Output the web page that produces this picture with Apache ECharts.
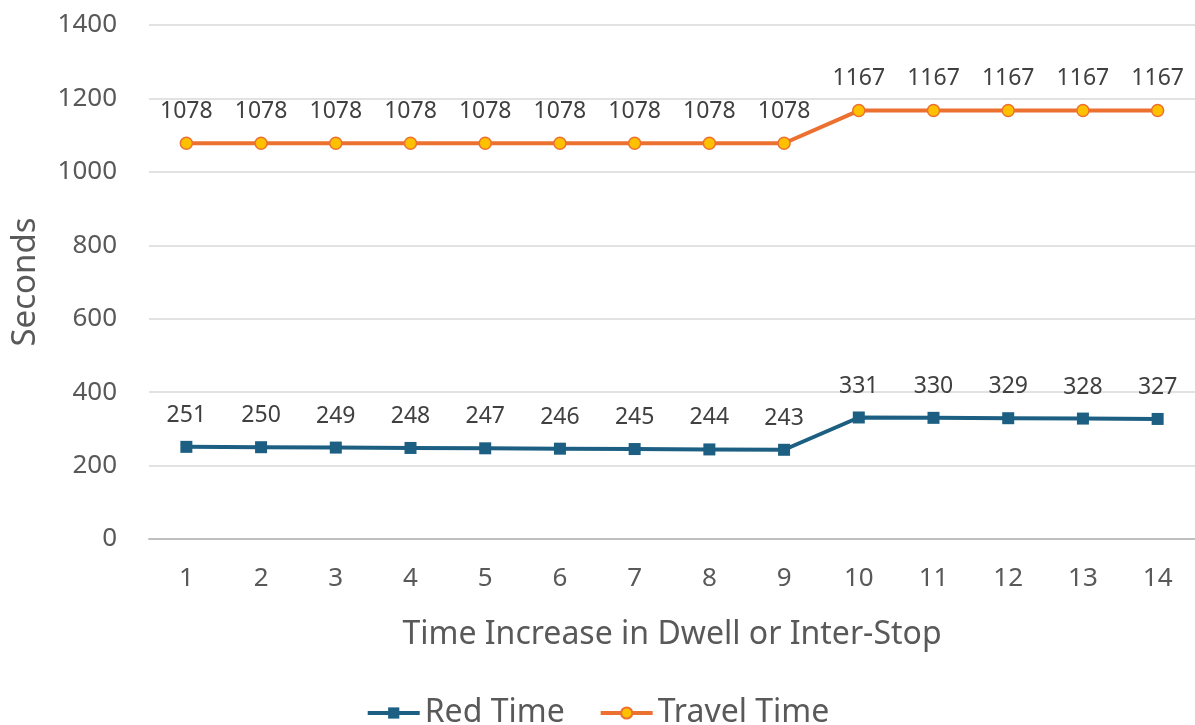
<!DOCTYPE html>
<html>
<head>
<meta charset="utf-8">
<script src="https://cdn.jsdelivr.net/npm/echarts@6/dist/echarts.min.js"></script>
<style>
  html, body { margin: 0; padding: 0; background: #ffffff; }
  #chart { width: 1195px; height: 725px; }
</style>
</head>
<body>
<div id="chart"></div>
<script>
// Step of added time (dwell or inter-stop), seconds of red time and travel time
const categories = ['1', '2', '3', '4', '5', '6', '7', '8', '9', '10', '11', '12', '13', '14'];
const redTime = [251, 250, 249, 248, 247, 246, 245, 244, 243, 331, 330, 329, 328, 327];
const travelTime = [1078, 1078, 1078, 1078, 1078, 1078, 1078, 1078, 1078, 1167, 1167, 1167, 1167, 1167];
const yTicks = { min: 0, max: 1400, interval: 200 };

const FONT = '"Noto Sans", "Open Sans", sans-serif';
const BLUE = '#1c5f82';
const ORANGE = '#ec7130';
const GOLD = '#ffc000';

const chart = echarts.init(document.getElementById('chart'), null, { renderer: 'canvas' });

const labelStyle = {
  show: true,
  position: 'top',
  distance: 14,
  color: '#404040',
  fontSize: 23,
  fontFamily: FONT
};

chart.setOption({
  animation: false,
  backgroundColor: '#ffffff',
  grid: { left: 149, right: 0, top: 25, bottom: 186, containLabel: false },
  legend: {
    bottom: -9,
    left: 'center',
    itemWidth: 52,
    itemHeight: 14,
    itemGap: 34,
    lineStyle: { width: 4 },
    textStyle: { color: '#595959', fontSize: 32, fontFamily: FONT },
    data: ['Red Time', 'Travel Time']
  },
  xAxis: {
    type: 'category',
    data: categories,
    boundaryGap: true,
    name: 'Time Increase in Dwell or Inter-Stop',
    nameLocation: 'middle',
    nameGap: 80,
    nameTextStyle: { color: '#595959', fontSize: 32, fontFamily: FONT },
    axisLine: { show: true, lineStyle: { color: '#bfbfbf', width: 2 } },
    axisTick: { show: false },
    axisLabel: { color: '#595959', fontSize: 26, fontFamily: FONT, margin: 27 }
  },
  yAxis: {
    type: 'value',
    min: yTicks.min,
    max: yTicks.max,
    interval: yTicks.interval,
    name: 'Seconds',
    nameLocation: 'middle',
    nameGap: 107,
    nameRotate: 90,
    nameTextStyle: { color: '#595959', fontSize: 33, fontFamily: FONT },
    axisLine: { show: false },
    axisTick: { show: false },
    axisLabel: {
      color: '#595959',
      fontSize: 26,
      fontFamily: FONT,
      margin: 32,
      formatter: (v) => String(v)
    },
    splitLine: { lineStyle: { color: '#d9d9d9', width: 1.5 } }
  },
  series: [
    {
      name: 'Red Time',
      type: 'line',
      data: redTime,
      symbol: 'rect',
      symbolSize: 12,
      lineStyle: { color: BLUE, width: 4 },
      itemStyle: { color: BLUE, borderColor: BLUE, borderWidth: 0 },
      label: labelStyle
    },
    {
      name: 'Travel Time',
      type: 'line',
      data: travelTime,
      symbol: 'circle',
      symbolSize: 12,
      lineStyle: { color: ORANGE, width: 4 },
      itemStyle: { color: GOLD, borderColor: ORANGE, borderWidth: 1.5 },
      label: labelStyle
    }
  ]
});
</script>
</body>
</html>
